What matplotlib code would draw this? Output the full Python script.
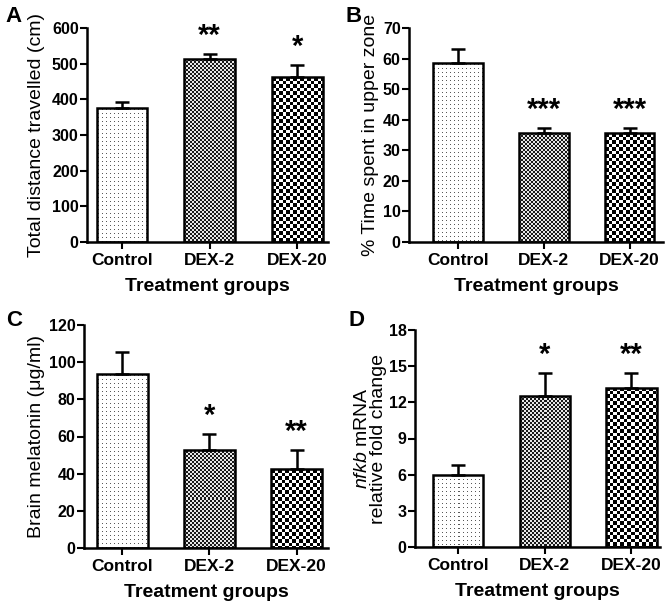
import numpy as np
import matplotlib.pyplot as plt

plt.rcParams['font.family'] = ['Liberation Sans', 'DejaVu Sans']
plt.rcParams['mathtext.fontset'] = 'custom'
plt.rcParams['mathtext.rm'] = 'Liberation Sans'
plt.rcParams['mathtext.it'] = 'Liberation Sans:italic'

groups = ['Control', 'DEX-2', 'DEX-20']

# A - total distance travelled
distance_mean = [375, 512, 462]
distance_sem = [17, 16, 35]
distance_stars = ['', '**', '*']

# B - time in upper zone
upper_mean = [58.5, 35.5, 35.5]
upper_sem = [4.7, 1.7, 1.7]
upper_stars = ['', '***', '***']

# C - brain melatonin
melatonin_mean = [93.5, 53, 42.5]
melatonin_sem = [12, 8.5, 10]
melatonin_stars = ['', '*', '**']

# D - nfkb expression
nfkb_mean = [6.0, 12.5, 13.2]
nfkb_sem = [0.8, 1.9, 1.2]
nfkb_stars = ['', '*', '**']

W, H = 670, 608
fig = plt.figure(figsize=(W / 100, H / 100), dpi=100)


def texture(kind, w, h):
    # fill pattern for each group, in screen pixels
    yy, xx = np.mgrid[0:h, 0:w]
    if kind == 0:
        img = np.ones((h, w))
        img[(yy % 4 == 1) & (xx % 4 == 1)] = 0.35
    elif kind == 1:
        img = np.where(((xx // 2) + (yy // 2)) % 2 == 0, 0.1, 0.9)
    else:
        img = np.where(((xx * 2 // 7) + (yy * 2 // 7)) % 2 == 0, 0.0, 1.0)
    return img


def panel(box, xlim, means, sems, stars, ymax, step, ylabel, letter,
          letter_pos, ypad):
    l, r, t, b = box
    ax = fig.add_axes([l / W, 1 - b / H, (r - l) / W, (b - t) / H])
    x = np.arange(len(groups))
    ax.set_xlim(*xlim)
    ax.set_ylim(0, ymax)

    bars = ax.bar(x, means, width=0.58, facecolor='none', edgecolor='black',
                  linewidth=1.8, zorder=3)
    for i, bar in enumerate(bars):
        left, right = bar.get_x(), bar.get_x() + bar.get_width()
        p0 = ax.transData.transform((left, 0))
        p1 = ax.transData.transform((right, means[i]))
        w = max(int(round(p1[0] - p0[0])), 1)
        h = max(int(round(p1[1] - p0[1])), 1)
        im = ax.imshow(texture(i, w, h), extent=(left, right, 0, means[i]),
                       cmap='gray', vmin=0, vmax=1, interpolation='nearest',
                       aspect='auto', zorder=2)
        im.set_clip_path(bar)

    ax.errorbar(x, means, yerr=[np.zeros(len(sems)), sems], fmt='none',
                ecolor='black', elinewidth=1.8, capsize=5, capthick=1.8, zorder=4)

    for i, s in enumerate(stars):
        if s:
            ax.annotate(s, (x[i], means[i] + sems[i]), xytext=(0, 13),
                        textcoords='offset points', ha='center', va='center',
                        fontsize=21, fontweight='bold', annotation_clip=False)

    ax.set_xlim(*xlim)
    ax.set_ylim(0, ymax)
    ax.set_yticks(np.arange(0, ymax + step / 2, step))
    ax.set_xticks(x)
    ax.set_xticklabels(groups, fontsize=12.5, fontweight='bold')
    for lab in ax.get_yticklabels():
        lab.set_fontweight('bold')
        lab.set_fontsize(11.5)
    ax.tick_params(direction='out', length=5, width=1.5, pad=1)
    ax.tick_params(axis='x', pad=3)
    for side in ['top', 'right']:
        ax.spines[side].set_visible(False)
    for side in ['left', 'bottom']:
        ax.spines[side].set_linewidth(1.8)
    ax.set_xlabel('Treatment groups', fontsize=14, fontweight='bold', labelpad=7)
    ax.set_ylabel(ylabel, fontsize=14, labelpad=ypad, linespacing=0.95)
    ax.text(letter_pos[0], letter_pos[1], letter, transform=ax.transAxes,
            fontsize=16, fontweight='bold', va='center', ha='left')
    return ax


panel((87, 328, 28, 242), (-0.40, 2.35), distance_mean, distance_sem,
      distance_stars, 600, 100, 'Total distance travelled (cm)', 'A',
      (-0.34, 1.055), 5)
panel((409, 663, 28, 242), (-0.57, 2.39), upper_mean, upper_sem,
      upper_stars, 70, 10, '% Time spent in upper zone', 'B',
      (-0.25, 1.056), 3)
panel((84, 328, 325, 548), (-0.44, 2.36), melatonin_mean, melatonin_sem,
      melatonin_stars, 120, 20, 'Brain melatonin (μg/ml)', 'C',
      (-0.32, 1.02), 3)
panel((415, 660, 330, 547), (-0.50, 2.33), nfkb_mean, nfkb_sem,
      nfkb_stars, 18, 3, '$\\it{nfkb}$ mRNA\nrelative fold change', 'D',
      (-0.27, 1.046), 1)

fig.savefig('out.png', dpi=100)
